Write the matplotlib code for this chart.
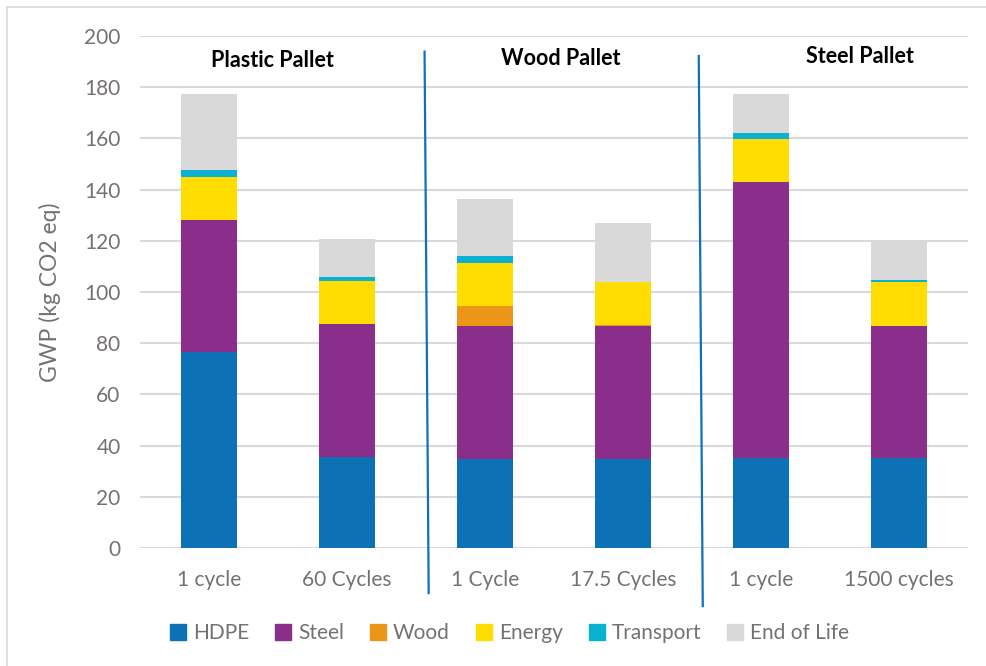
import numpy as np
import matplotlib
matplotlib.use('Agg')
import matplotlib.pyplot as plt
from matplotlib.lines import Line2D
from matplotlib.patches import Rectangle

plt.rcParams['font.family'] = ['Lato', 'DejaVu Sans']

# GWP contributions per pallet scenario (kg CO2 eq)
scenarios = ['1 cycle', '60 Cycles', '1 Cycle', '17.5 Cycles', '1 cycle', '1500 cycles']
hdpe      = [76.4, 35.7, 34.9, 34.9, 35.0, 35.0]
steel     = [51.8, 51.7, 51.8, 51.9, 107.8, 51.8]
wood      = [0.0, 0.0, 7.8, 0.3, 0.0, 0.0]
energy    = [16.8, 17.0, 17.0, 16.9, 17.0, 17.0]
transport = [2.5, 1.5, 2.4, 0.0, 2.4, 0.8]
end_life  = [29.7, 14.8, 22.3, 23.1, 15.0, 14.8]

components = ['HDPE', 'Steel', 'Wood', 'Energy', 'Transport', 'End of Life']
colors = ['#0C71B5', '#8B2E8B', '#EB9616', '#FFDD00', '#0AB1D1', '#D9D9D9']
groups = ['Plastic Pallet', 'Wood Pallet', 'Steel Pallet']
group_x = [0.46, 2.55, 4.72]
group_y = [190.6, 191.4, 191.8]

fig = plt.figure(figsize=(9.87, 6.66), dpi=100)
ax = fig.add_axes([140/987, 1-548/666, 828/987, 512/666])

x = np.arange(len(scenarios))
bottom = np.zeros(len(scenarios))
for vals, col in zip([hdpe, steel, wood, energy, transport, end_life], colors):
    ax.bar(x, vals, width=0.4, bottom=bottom, color=col, zorder=3)
    bottom += np.array(vals)

ax.set_xlim(-0.5, 5.5)
ax.set_ylim(0, 200)
ax.set_yticks(range(0, 201, 20))
ax.set_xticks(x)
ax.set_xticklabels(scenarios)
ax.yaxis.grid(True, color='#D9D9D9', lw=1.5, zorder=0)
for s in ax.spines.values():
    s.set_visible(False)
ax.tick_params(length=0, labelsize=15, colors='#595959', labelcolor='#767171')
ax.tick_params(axis='x', pad=16)
ax.tick_params(axis='y', pad=14)
ax.set_ylabel('GWP (kg CO2 eq)', fontsize=16.5, color='#767171', labelpad=17)

for name, gx, gy in zip(groups, group_x, group_y):
    ax.text(gx, gy, name, ha='center', va='center', fontsize=15.5,
            fontweight='bold', color='black')

# separators between pallet types
ax.plot([1.562, 1.592], [193.9, -17.6], color='#1170B8', lw=1.6, clip_on=False, zorder=4)
ax.plot([3.549, 3.578], [192.2, -22.7], color='#1170B8', lw=1.6, clip_on=False, zorder=4)

handles = [Line2D([], [], marker='s', ls='none', markersize=11, color=c) for c in colors]
leg = fig.legend(handles, components, loc='center', bbox_to_anchor=(0.514, 1-633/666),
                 ncol=6, frameon=False, fontsize=15, handletextpad=0.1,
                 columnspacing=1.05, handlelength=1.2)
for t in leg.get_texts():
    t.set_color('#767171')

# chart area border
fig.patches.append(Rectangle((7/987, -0.1), 1.2, 1-7/666+0.1, transform=fig.transFigure,
                             fill=False, ec='#D9D9D9', lw=1.2))

fig.savefig('out.png', dpi=100)
